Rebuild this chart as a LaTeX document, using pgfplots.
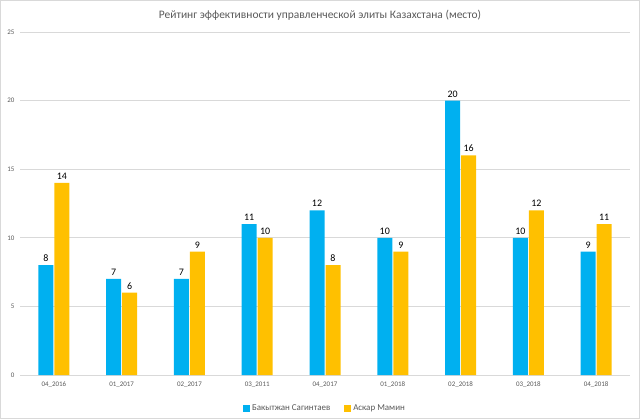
\documentclass[border=0pt]{standalone}
\usepackage{pgfplots}
\pgfplotsset{compat=1.18}
\usepackage{fontspec}
\setmainfont{Carlito}
\definecolor{cblue}{HTML}{00B0F0}
\definecolor{cyel}{HTML}{FFC000}
\definecolor{cgrid}{HTML}{D9D9D9}
\definecolor{ctick}{HTML}{595959}
\begin{document}
\begin{tikzpicture}[x=1bp,y=1bp]
\path[use as bounding box, draw=cgrid, line width=1bp] (0.5,0.5) rectangle (639.5,418.5);
\node[font=\fontsize{11.5}{13}\selectfont, text=ctick] at (320,404) {Рейтинг эффективности управленческой элиты Казахстана (место)};
\begin{axis}[
  at={(20bp,44bp)}, anchor=south west,
  scale only axis, width=610bp, height=343bp,
  ybar, bar width=15bp,
  xmin=-0.5, xmax=8.5, ymin=0, ymax=25,
  ytick={0,5,10,15,20,25},
  xtick={0,...,8},
  xticklabels={04\_2016,01\_2017,02\_2017,03\_2011,04\_2017,01\_2018,02\_2018,03\_2018,04\_2018},
  axis x line*=bottom,
  axis y line*=left,
  y axis line style={draw=none},
  x axis line style={draw=cgrid, line width=0.8bp, -},
  ymajorgrids, grid style={draw=cgrid, line width=0.8bp},
  major tick length=0pt,
  yticklabel style={font=\fontsize{7}{8}\selectfont, text=ctick, xshift=-2bp},
  xticklabel style={font=\fontsize{7}{8}\selectfont, text=ctick, yshift=-3bp},
  /pgf/number format/assume math mode=true,
  nodes near coords,
  every node near coord/.append style={font=\fontsize{10}{11}\selectfont, text=black},
  clip=false,
  legend style={at={(0.5,-0.075)}, anchor=north, draw=none, legend columns=2, font=\fontsize{9}{10}\selectfont, text=ctick, /tikz/every even column/.append style={column sep=12bp}},
  legend image code/.code={\fill[#1] (0bp,-3.5bp) rectangle (7bp,3.5bp);},
]
\addplot[fill=cblue, draw=none, bar shift=-8bp] coordinates {(0,8) (1,7) (2,7) (3,11) (4,12) (5,10) (6,20) (7,10) (8,9)};
\addplot[fill=cyel, draw=none, bar shift=8bp] coordinates {(0,14) (1,6) (2,9) (3,10) (4,8) (5,9) (6,16) (7,12) (8,11)};
\legend{Бакытжан Сагинтаев, Аскар Мамин}
\end{axis}
\end{tikzpicture}
\end{document}
